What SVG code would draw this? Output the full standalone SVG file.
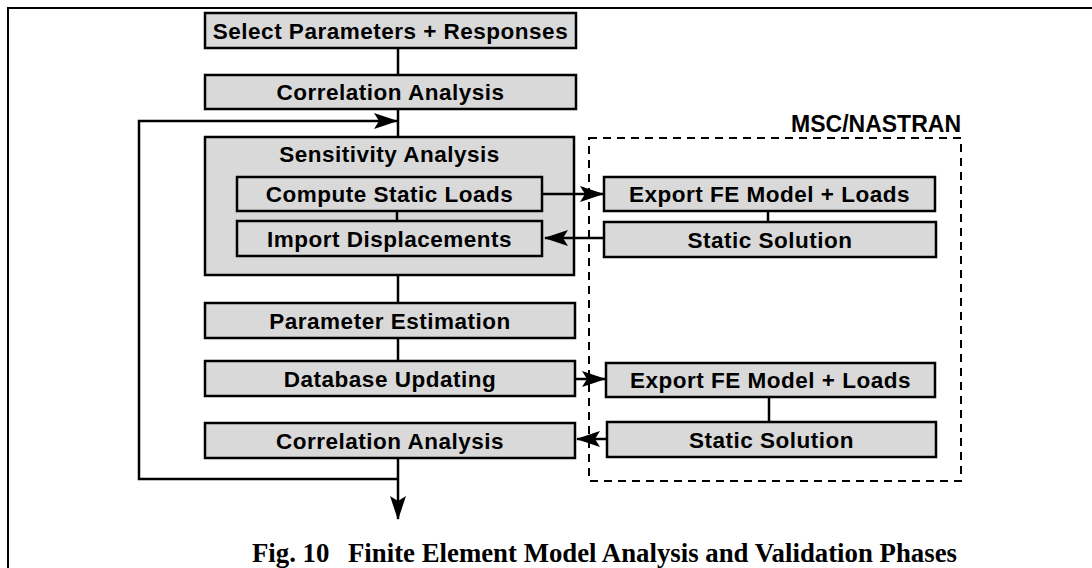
<svg xmlns="http://www.w3.org/2000/svg" width="1092" height="568" viewBox="0 0 1092 568">
<defs>
<style>
.box{fill:#d9d9d9;stroke:#000;stroke-width:2.5}
.lbl{font-family:"Liberation Sans",Arial,sans-serif;font-weight:bold;font-size:22.5px;letter-spacing:0.5px;text-anchor:middle;fill:#000}
.ln{fill:none;stroke:#000;stroke-width:2.5}
.cap{font-family:"Liberation Serif","Times New Roman",serif;font-weight:bold;font-size:26.8px;fill:#000}
</style>
<marker id="ah" markerUnits="userSpaceOnUse" markerWidth="26" markerHeight="18" refX="23" refY="8" orient="auto">
<path d="M0,0 L24,8 L0,16 L5,8 z" fill="#000"/>
</marker>
</defs>
<rect x="8" y="8" width="1100" height="600" fill="none" stroke="#000" stroke-width="2"/>

<g id="nastran">
<rect x="589" y="138" width="372" height="343" fill="none" stroke="#000" stroke-width="2" stroke-dasharray="8,6"/>
<text x="961" y="132" text-anchor="end" font-family="'Liberation Sans',Arial,sans-serif" font-weight="bold" font-size="23">MSC/NASTRAN</text>
</g>

<g id="select"><rect class="box" x="205" y="13" width="371" height="35"/><text class="lbl" x="390.5" y="38.5">Select Parameters + Responses</text></g>
<g id="corr1"><rect class="box" x="205" y="75" width="371" height="34"/><text class="lbl" x="390.5" y="100">Correlation Analysis</text></g>
<g id="sens"><rect class="box" x="205" y="137" width="369" height="138"/><text class="lbl" x="389.5" y="162">Sensitivity Analysis</text></g>
<g id="compute"><rect class="box" x="237" y="177" width="305" height="34"/><text class="lbl" x="389.5" y="202">Compute Static Loads</text></g>
<g id="import"><rect class="box" x="237" y="221" width="305" height="35"/><text class="lbl" x="389.5" y="246.5">Import Displacements</text></g>
<g id="export1"><rect class="box" x="604" y="177" width="331" height="34"/><text class="lbl" x="769.5" y="202">Export FE Model + Loads</text></g>
<g id="static1"><rect class="box" x="604" y="222" width="332" height="35"/><text class="lbl" x="770" y="247.5">Static Solution</text></g>
<g id="paramest"><rect class="box" x="205" y="303" width="370" height="35"/><text class="lbl" x="390" y="328.5">Parameter Estimation</text></g>
<g id="dbupd"><rect class="box" x="205" y="361" width="370" height="35"/><text class="lbl" x="390" y="386.5">Database Updating</text></g>
<g id="corr2"><rect class="box" x="205" y="423" width="370" height="35"/><text class="lbl" x="390" y="448.5">Correlation Analysis</text></g>
<g id="export2"><rect class="box" x="606" y="363" width="329" height="34"/><text class="lbl" x="770.5" y="388">Export FE Model + Loads</text></g>
<g id="static2"><rect class="box" x="607" y="422" width="329" height="35"/><text class="lbl" x="771.5" y="447.5">Static Solution</text></g>

<g id="connectors">
<line class="ln" x1="398" y1="48" x2="398" y2="75"/>
<line class="ln" x1="398" y1="109" x2="398" y2="137"/>
<polyline class="ln" points="398,479 139,479 139,121 397,121" marker-end="url(#ah)"/>
<line class="ln" x1="397" y1="211" x2="397" y2="221"/>
<line class="ln" x1="398" y1="275" x2="398" y2="303"/>
<line class="ln" x1="398" y1="338" x2="398" y2="361"/>
<line class="ln" x1="398" y1="458" x2="398" y2="519" marker-end="url(#ah)"/>
<line class="ln" x1="543" y1="194" x2="603" y2="194" marker-end="url(#ah)"/>
<line class="ln" x1="603" y1="238" x2="545" y2="238" marker-end="url(#ah)"/>
<line class="ln" x1="768" y1="211" x2="768" y2="222"/>
<line class="ln" x1="576" y1="379" x2="605" y2="379" marker-end="url(#ah)"/>
<line class="ln" x1="606" y1="439" x2="577" y2="439" marker-end="url(#ah)"/>
<line class="ln" x1="769" y1="397" x2="769" y2="422"/>
</g>

<text class="cap" x="252" y="562">Fig. 10</text>
<text class="cap" x="348" y="562">Finite Element Model Analysis and Validation Phases</text>
</svg>
